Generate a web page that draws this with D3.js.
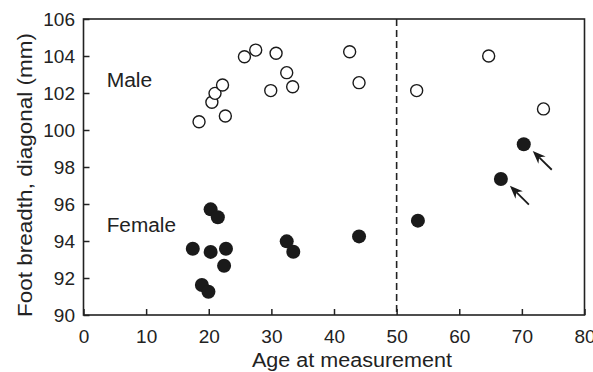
<!DOCTYPE html>
<html>
<head>
<meta charset="utf-8">
<script src="https://cdn.jsdelivr.net/npm/d3@7"></script>
<style>
  html, body { margin: 0; padding: 0; background: #fff; }
  svg { display: block; }
  text { font-family: "Liberation Sans", Arial, Helvetica, sans-serif; fill: #222; }
</style>
</head>
<body>
<svg id="chart" width="593" height="372"></svg>
<script>
// ---- data ----
const maleAge     = [18.45, 20.5, 21.0, 22.2, 22.65, 25.7, 27.5, 30.75, 29.9, 32.45, 33.4, 42.5, 44.0, 53.2, 64.7, 73.45];
const maleBreadth = [100.45, 101.5, 101.98, 102.43, 100.76, 103.96, 104.32, 104.15, 102.13, 103.1, 102.34, 104.23, 102.56, 102.13, 104.0, 101.14];

const femaleAge     = [20.3, 21.45, 17.45, 20.3, 22.75, 22.45, 18.9, 19.95, 32.45, 33.5, 44.0, 53.4, 66.65, 70.3];
const femaleBreadth = [95.71, 95.28, 93.58, 93.41, 93.58, 92.66, 91.62, 91.26, 93.98, 93.42, 94.25, 95.1, 97.35, 99.23];

const xTicks = [0, 10, 20, 30, 40, 50, 60, 70, 80];
const yTicks = [90, 92, 94, 96, 98, 100, 102, 104, 106];
const xDomain = [0, 80];
const yDomain = [90, 106];
const dividerAge = 50;

const groupLabels = ["Male", "Female"];
const groupLabelAge = [3.7, 3.7];
const groupLabelBreadth = [102.34, 94.5];

// arrows point at these female points (indices into female arrays)
const arrowTargets = [13, 12];

const xTitle = "Age at measurement";
const yTitle = "Foot breadth, diagonal (mm)";

// ---- drawing ----
const svg = d3.select("#chart");
const mLeft = 83.5, mRight = 584.5, mTop = 19, mBottom = 315;
const ink = "#222";

const x = d3.scaleLinear().domain(xDomain).range([mLeft, mRight]);
const y = d3.scaleLinear().domain(yDomain).range([mBottom, mTop]);

// x axis
const gx = svg.append("g").attr("transform", `translate(0,${mBottom})`)
  .call(d3.axisBottom(x).tickValues(xTicks).tickSize(-6).tickPadding(14.5).tickFormat(d3.format("d")));
gx.select(".domain").remove();
gx.selectAll("line").attr("stroke", ink).attr("stroke-width", 1.5);
gx.selectAll("text").attr("font-size", 19).attr("fill", ink);

// y axis
const gy = svg.append("g").attr("transform", `translate(${mLeft},0)`)
  .call(d3.axisLeft(y).tickValues(yTicks).tickSize(-6).tickPadding(8.5).tickFormat(d3.format("d")));
gy.select(".domain").remove();
gy.selectAll("line").attr("stroke", ink).attr("stroke-width", 1.5);
gy.selectAll("text").attr("font-size", 19).attr("fill", ink);

// frame
svg.append("rect")
  .attr("x", x(xDomain[0])).attr("y", y(yDomain[1]))
  .attr("width", x(xDomain[1]) - x(xDomain[0]))
  .attr("height", y(yDomain[0]) - y(yDomain[1]))
  .attr("fill", "none").attr("stroke", ink).attr("stroke-width", 1.6);

// dashed divider
svg.append("line")
  .attr("x1", x(dividerAge)).attr("x2", x(dividerAge))
  .attr("y1", y(yDomain[1])).attr("y2", y(yDomain[0]))
  .attr("stroke", ink).attr("stroke-width", 1.6)
  .attr("stroke-dasharray", "7,4");

// male open circles
svg.append("g").selectAll("circle")
  .data(d3.range(maleAge.length))
  .join("circle")
  .attr("cx", i => x(maleAge[i]))
  .attr("cy", i => y(maleBreadth[i]))
  .attr("r", 6)
  .attr("fill", "#fff")
  .attr("stroke", "#1a1a1a")
  .attr("stroke-width", 1.4);

// female filled circles
svg.append("g").selectAll("circle")
  .data(d3.range(femaleAge.length))
  .join("circle")
  .attr("cx", i => x(femaleAge[i]))
  .attr("cy", i => y(femaleBreadth[i]))
  .attr("r", 7)
  .attr("fill", "#1a1a1a");

// arrows
const arrowG = svg.append("g");
arrowTargets.forEach(i => {
  const px = x(femaleAge[i]), py = y(femaleBreadth[i]);
  const tip = [px + 9, py + 6.8];
  const tail = [px + 28, py + 25.5];
  const dx = tail[0] - tip[0], dy = tail[1] - tip[1];
  const len = Math.hypot(dx, dy);
  const ux = dx / len, uy = dy / len;
  const nx = -uy, ny = ux;
  const headLen = 13, headW = 5.2, notch = 9;
  const b1 = [tip[0] + ux * headLen + nx * headW, tip[1] + uy * headLen + ny * headW];
  const b2 = [tip[0] + ux * headLen - nx * headW, tip[1] + uy * headLen - ny * headW];
  const nb = [tip[0] + ux * notch, tip[1] + uy * notch];
  arrowG.append("line")
    .attr("x1", nb[0]).attr("y1", nb[1])
    .attr("x2", tail[0]).attr("y2", tail[1])
    .attr("stroke", "#1a1a1a").attr("stroke-width", 1.8);
  arrowG.append("path")
    .attr("d", `M${tip[0]},${tip[1]}L${b1[0]},${b1[1]}L${nb[0]},${nb[1]}L${b2[0]},${b2[1]}Z`)
    .attr("fill", "#1a1a1a");
});

// group labels
const labelLens = [45.6, 69.3];
svg.append("g").selectAll("text")
  .data(d3.range(groupLabels.length))
  .join("text")
  .attr("x", i => x(groupLabelAge[i]))
  .attr("y", i => y(groupLabelBreadth[i]))
  .attr("font-size", 20)
  .attr("textLength", i => labelLens[i])
  .attr("lengthAdjust", "spacingAndGlyphs")
  .text(i => groupLabels[i]);

// axis titles
svg.append("text")
  .attr("x", 352).attr("y", 367)
  .attr("text-anchor", "middle")
  .attr("font-size", 19.5)
  .attr("textLength", 200)
  .attr("lengthAdjust", "spacingAndGlyphs")
  .text(xTitle);

svg.append("text")
  .attr("transform", "translate(31.5,175) rotate(-90)")
  .attr("text-anchor", "middle")
  .attr("font-size", 19.5)
  .attr("textLength", 284)
  .attr("lengthAdjust", "spacingAndGlyphs")
  .text(yTitle);
</script>
</body>
</html>
